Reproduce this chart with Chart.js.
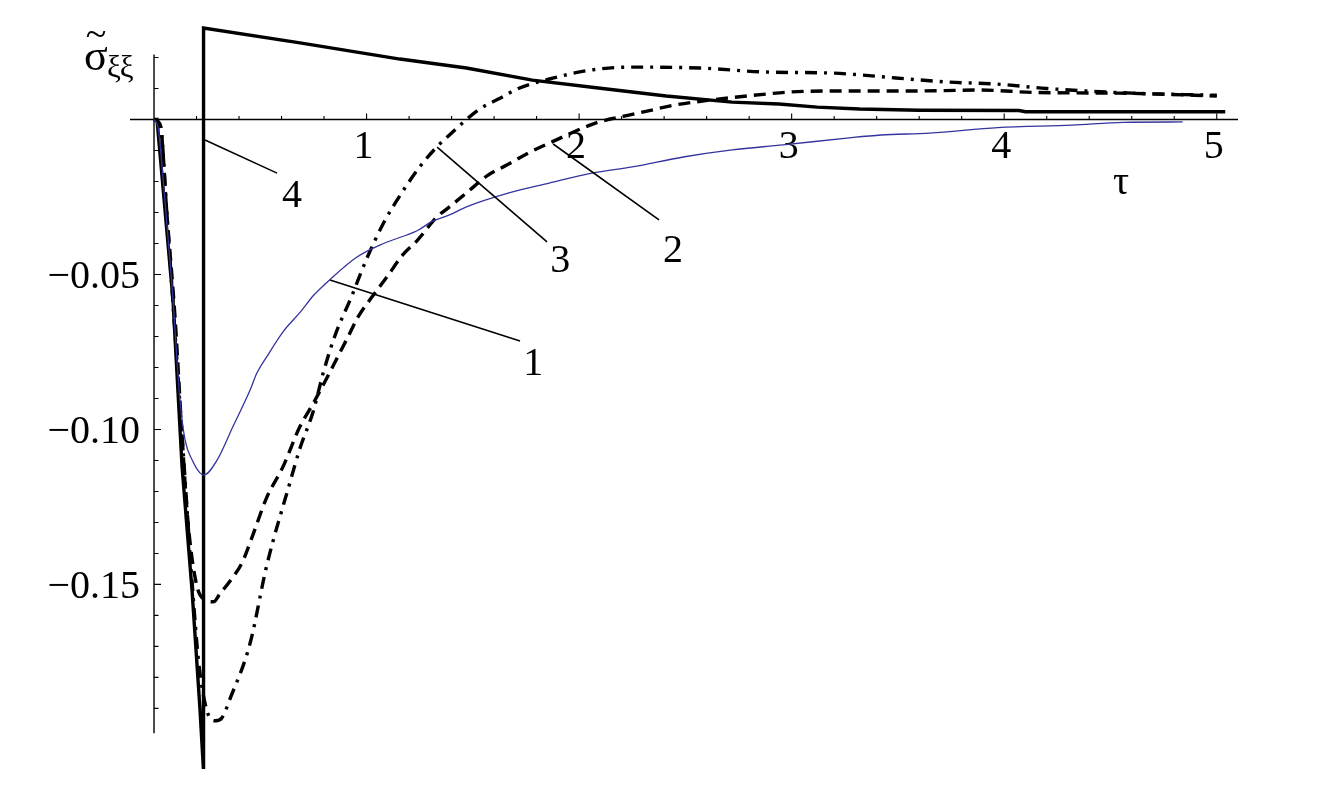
<!DOCTYPE html>
<html lang="en">
<head>
<meta charset="UTF-8">
<title>Stress sigma_xixi vs tau</title>
<script src="https://cdn.jsdelivr.net/npm/chart.js"></script>
<style>
  html, body { margin: 0; padding: 0; background: #fff; }
  #wrap { width: 1325px; height: 791px; }
</style>
</head>
<body>
<div id="wrap"><canvas id="stressChart" width="1325" height="791"></canvas></div>
<script>
// curve 1 - thin blue
const tau1 = [0, 0.02, 0.05, 0.085, 0.122, 0.146, 0.179, 0.216, 0.235, 0.296, 0.372, 0.452, 0.484, 0.53, 0.607, 0.69, 0.75, 0.83, 0.95, 1.08, 1.24, 1.31, 1.39, 1.47, 1.67, 1.86, 2.06, 2.25, 2.49, 2.72, 2.96, 3.26, 3.42, 3.65, 3.97, 4.32, 4.56, 4.84];
const sig1 = [0, -0.003, -0.025, -0.054, -0.0905, -0.1034, -0.1098, -0.114, -0.1147, -0.110, -0.099, -0.0873, -0.0818, -0.0766, -0.0685, -0.062, -0.0568, -0.0515, -0.0446, -0.0400, -0.0358, -0.0328, -0.0308, -0.0282, -0.0237, -0.0205, -0.0173, -0.0153, -0.0121, -0.0098, -0.0082, -0.006, -0.005, -0.0044, -0.0026, -0.0018, -0.0009, -0.0008];

// curve 2 - dashed
const tau2 = [0, 0.03, 0.06, 0.10, 0.13, 0.16, 0.20, 0.24, 0.28, 0.31, 0.357, 0.414, 0.46, 0.53, 0.607, 0.687, 0.75, 0.91, 0.96, 1.025, 1.096, 1.17, 1.24, 1.33, 1.39, 1.47, 1.57, 1.66, 1.77, 1.87, 2.08, 2.19, 2.32, 2.43, 2.54, 2.88, 3.0, 3.26, 3.57, 3.89, 4.15, 4.54, 5.0];
const sig2 = [0, -0.002, -0.03, -0.065, -0.10, -0.13, -0.15, -0.155, -0.1556, -0.153, -0.149, -0.143, -0.135, -0.122, -0.112, -0.099, -0.0915, -0.0705, -0.0637, -0.0573, -0.0508, -0.0437, -0.0389, -0.0315, -0.0282, -0.0237, -0.018, -0.0147, -0.0105, -0.0073, -0.0011, 0.0008, 0.0027, 0.0044, 0.0056, 0.0082, 0.0089, 0.0092, 0.0092, 0.0095, 0.0087, 0.0085, 0.0076];

// curve 3 - dash-dot
const tau3 = [0, 0.03, 0.06, 0.10, 0.14, 0.18, 0.21, 0.25, 0.29, 0.32, 0.357, 0.452, 0.53, 0.64, 0.687, 0.75, 0.795, 0.85, 0.93, 1.0, 1.08, 1.17, 1.25, 1.33, 1.39, 1.53, 1.63, 1.71, 1.88, 2.06, 2.25, 2.57, 2.88, 3.18, 3.49, 3.73, 3.97, 4.2, 4.6, 5.0];
const sig3 = [0, -0.002, -0.03, -0.07, -0.11, -0.15, -0.175, -0.191, -0.194, -0.193, -0.187, -0.169, -0.144, -0.117, -0.106, -0.094, -0.082, -0.070, -0.057, -0.045, -0.0334, -0.0232, -0.0153, -0.0089, -0.005, 0.0033, 0.0069, 0.0099, 0.0134, 0.016, 0.0169, 0.0166, 0.0153, 0.015, 0.0134, 0.0121, 0.0114, 0.010, 0.0085, 0.0078];

// curve 4 - thick solid, jumps at tau ~ 0.23
const tau4 = [0, 0.014, 0.089, 0.132, 0.179, 0.216, 0.232, 0.233, 0.687, 1.157, 1.47, 1.78, 2.1, 2.41, 2.72, 2.94, 3.12, 3.32, 3.6, 4.07, 4.1, 5.04];
const sig4 = [0, 0, -0.058, -0.112, -0.152, -0.19, -0.209, 0.0295, 0.0247, 0.0195, 0.0166, 0.0127, 0.0101, 0.0076, 0.0056, 0.005, 0.004, 0.0034, 0.003, 0.0029, 0.0025, 0.0025];

// axes
const xTicks = [1, 2, 3, 4, 5];
const xTickLabels = ['1', '2', '3', '4', '5'];
const yTicks = [-0.05, -0.10, -0.15];
const yTickLabels = ['\u22120.05', '\u22120.10', '\u22120.15'];
const xAxisRange = [-0.113, 5.1];
const yAxisRange = [-0.198, 0.021];

// curve labels and their leader lines (data coordinates)
const curveLabels = ['1', '2', '3', '4'];
const leaderFrom = [[0.828, -0.0518], [1.878, -0.0079], [1.332, -0.0089], [0.24, -0.0066]];
const leaderTo = [[1.722, -0.0715], [2.376, -0.0324], [1.849, -0.0395], [0.579, -0.0173]];
const labelAt = [[1.784, -0.0779], [2.442, -0.0415], [1.911, -0.0447], [0.649, -0.0237]];

const pts = (xs, ys) => xs.map((v, i) => ({ x: v, y: ys[i] }));

const SERIF = '"Liberation Serif", "Times New Roman", serif';

const axesPlugin = {
    id: 'mmaAxes',
    beforeDatasetsDraw(chart) {
        const { ctx, scales: { x, y } } = chart;
        const x0 = x.getPixelForValue(0), y0 = y.getPixelForValue(0);
        ctx.save();
        ctx.strokeStyle = '#000';
        ctx.lineWidth = 1.4;
        ctx.beginPath();
        ctx.moveTo(x.getPixelForValue(xAxisRange[0]), y0);
        ctx.lineTo(x.getPixelForValue(xAxisRange[1]), y0);
        ctx.moveTo(x0, y.getPixelForValue(yAxisRange[0]));
        ctx.lineTo(x0, y.getPixelForValue(yAxisRange[1]));
        ctx.stroke();

        // x ticks every 0.2, pointing up
        ctx.lineWidth = 1.1;
        ctx.beginPath();
        for (let k = 1; k <= 25; k++) {
            const px = x.getPixelForValue(k * 0.2);
            const len = k % 5 === 0 ? 6 : 3.5;
            ctx.moveTo(px, y0);
            ctx.lineTo(px, y0 - len);
        }
        // y ticks every 0.01, pointing right
        for (let k = -19; k <= 2; k++) {
            if (k === 0) continue;
            const py = y.getPixelForValue(k * 0.01);
            const len = k % 5 === 0 ? 7 : 4.5;
            ctx.moveTo(x0, py);
            ctx.lineTo(x0 + len, py);
        }
        ctx.stroke();

        ctx.fillStyle = '#000';
        ctx.font = '40px ' + SERIF;
        ctx.textAlign = 'center';
        ctx.textBaseline = 'alphabetic';
        xTicks.forEach((t, i) => {
            ctx.fillText(xTickLabels[i], x.getPixelForValue(t) - 3, y0 + 38.5);
        });
        ctx.textAlign = 'right';
        yTicks.forEach((t, i) => {
            ctx.fillText(yTickLabels[i], x0 - 14, y.getPixelForValue(t) + 14);
        });

        // axis labels
        ctx.textAlign = 'center';
        ctx.fillText('\u03C4', x.getPixelForValue(4.55), y0 + 75);
        ctx.font = '44px ' + SERIF;
        ctx.textAlign = 'left';
        ctx.fillText('\u03C3', x0 - 70, y0 - 49.5);
        ctx.textAlign = 'center';
        ctx.font = '38px ' + SERIF;
        ctx.fillText('~', x0 - 58, y0 - 73);
        ctx.font = '31px ' + SERIF;
        ctx.textAlign = 'left';
        ctx.fillText('\u03BE\u03BE', x0 - 47, y0 - 42.5);
        ctx.restore();
    },
    afterDatasetsDraw(chart) {
        const { ctx, scales: { x, y } } = chart;
        ctx.save();
        ctx.strokeStyle = '#000';
        ctx.lineWidth = 1.6;
        ctx.fillStyle = '#000';
        ctx.font = '40px ' + SERIF;
        ctx.textAlign = 'center';
        ctx.textBaseline = 'alphabetic';
        curveLabels.forEach((lab, i) => {
            ctx.beginPath();
            ctx.moveTo(x.getPixelForValue(leaderFrom[i][0]), y.getPixelForValue(leaderFrom[i][1]));
            ctx.lineTo(x.getPixelForValue(leaderTo[i][0]), y.getPixelForValue(leaderTo[i][1]));
            ctx.stroke();
            ctx.fillText(lab, x.getPixelForValue(labelAt[i][0]), y.getPixelForValue(labelAt[i][1]) + 14);
        });
        ctx.restore();
    }
};

const ctx = document.getElementById('stressChart').getContext('2d');
new Chart(ctx, {
    type: 'line',
    data: {
        datasets: [
            { label: '1', data: pts(tau1, sig1), borderColor: '#34349e', borderWidth: 1.3,
              cubicInterpolationMode: 'monotone', clip: false },
            { label: '2', data: pts(tau2, sig2), borderColor: '#000', borderWidth: 3.4,
              borderDash: [12, 7], cubicInterpolationMode: 'monotone', clip: false },
            { label: '3', data: pts(tau3, sig3), borderColor: '#000', borderWidth: 3.4,
              borderDash: [12, 7, 3, 7], cubicInterpolationMode: 'monotone', clip: false },
            { label: '4', data: pts(tau4, sig4), borderColor: '#000', borderWidth: 3.4,
              tension: 0, clip: false }
        ]
    },
    options: {
        responsive: false,
        animation: false,
        devicePixelRatio: 1,
        layout: { padding: { left: 130, right: 87, top: 20, bottom: 11 } },
        elements: { point: { radius: 0 } },
        scales: {
            x: { type: 'linear', min: -0.113, max: 5.1, display: false },
            y: { type: 'linear', min: -0.2131, max: 0.0321, display: false }
        },
        plugins: { legend: { display: false }, tooltip: { enabled: false } }
    },
    plugins: [axesPlugin]
});
</script>
</body>
</html>
